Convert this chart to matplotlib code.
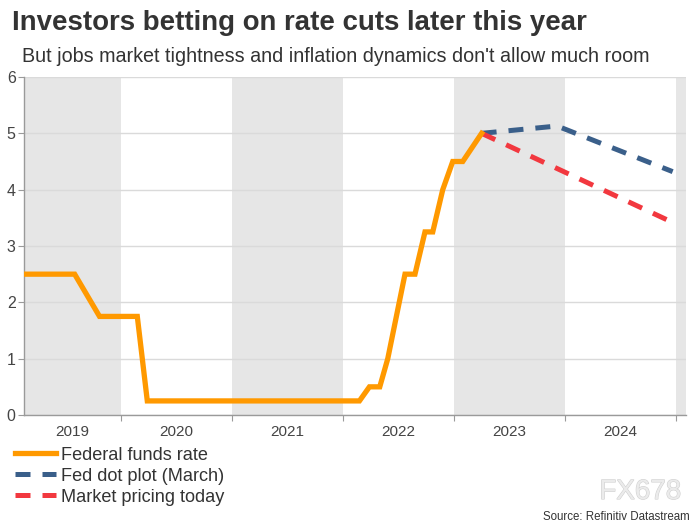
import matplotlib
matplotlib.use("Agg")
import matplotlib.pyplot as plt
from matplotlib.lines import Line2D
import matplotlib.patheffects as pe

plt.rcParams['font.family'] = ['Liberation Sans', 'DejaVu Sans']

# Data (decimal years)
fed_x = [2019.13, 2019.586, 2019.81, 2020.15, 2020.24, 2022.15, 2022.24, 2022.333,
         2022.405, 2022.56, 2022.65, 2022.74, 2022.81, 2022.90, 2022.99, 2023.08, 2023.25]
fed_y = [2.5, 2.5, 1.75, 1.75, 0.25, 0.25, 0.5, 0.5,
         1.0, 2.5, 2.5, 3.25, 3.25, 4.0, 4.5, 4.5, 5.0]

dot_x = [2023.25, 2023.93, 2024.97]
dot_y = [5.0, 5.13, 4.32]

mkt_x = [2023.25, 2024.99]
mkt_y = [5.0, 3.40]

years = [2019, 2020, 2021, 2022, 2023, 2024]
shaded_years = [2019, 2021, 2023, 2025]
x_min, x_max = 2019.13, 2025.09

title = "Investors betting on rate cuts later this year"
subtitle = "But jobs market tightness and inflation dynamics don't allow much room"

ORANGE = "#FF9900"
BLUE = "#3A5F8A"
RED = "#F2383F"
BAND = "#E6E6E6"

fig = plt.figure(figsize=(7, 5.25), dpi=100)
ax = fig.add_axes([24/700, 1-415/525, (686-24)/700, (415-77)/525])

for y in shaded_years:
    ax.axvspan(y, y+1, color=BAND, zorder=0, lw=0)

ax.set_xlim(x_min, x_max)
ax.set_ylim(0, 6)
ax.set_yticks(range(0, 7))
ax.yaxis.grid(True, color="#DADADA", lw=1)
for gl in ax.get_ygridlines():
    gl.set_zorder(0.5)

ax.plot(fed_x, fed_y, color=ORANGE, lw=3.8, solid_joinstyle='miter', zorder=3)
ax.plot(dot_x, dot_y, color=BLUE, lw=3.6, dashes=(3.0, 2.4), zorder=2)
ax.plot(mkt_x, mkt_y, color=RED, lw=3.6, dashes=(3.0, 2.4), zorder=2.5)

for s in ['top', 'right']:
    ax.spines[s].set_visible(False)
for s in ['left', 'bottom']:
    ax.spines[s].set_color("#9A9A9A")
    ax.spines[s].set_linewidth(1)

ax.tick_params(axis='y', length=4, color="#9A9A9A", labelsize=11.5, labelcolor="#444444", pad=2)
ax.set_xticks(range(2020, 2026))
ax.set_xticklabels([])
ax.tick_params(axis='x', which='major', length=4, color="#9A9A9A")
centers = [(max(y, x_min) + min(y+1, x_max)) / 2 for y in years]
ax.set_xticks(centers, minor=True)
ax.set_xticklabels([str(y) for y in years], minor=True)
ax.tick_params(axis='x', which='minor', length=0, labelsize=11, labelcolor="#444444", pad=7)

fig.text(12/700, 1-23/525, title, fontsize=19.9, fontweight='bold', color="#333333",
         va='center', ha='left')
fig.text(22/700, 1-57/525, subtitle, fontsize=14.2, color="#333333", va='center', ha='left')

handles = [Line2D([], [], color=ORANGE, lw=3.8),
           Line2D([], [], color=BLUE, lw=3.6, dashes=(3.0, 2.4)),
           Line2D([], [], color=RED, lw=3.6, dashes=(3.0, 2.4)),
           ]
labels = ["Federal funds rate", "Fed dot plot (March)", "Market pricing today"]
fig.legend(handles, labels, loc='upper left', bbox_to_anchor=(11/700, 1-443/525),
           frameon=False, fontsize=13.1, handlelength=2.3, handletextpad=0.25,
           labelspacing=0.22, labelcolor="#333333", borderaxespad=0, borderpad=0.2)

fig.text(681/700, 1-492/525, "FX678", fontsize=20, color="#EBEBEB", ha='right', va='center',
         path_effects=[pe.withStroke(linewidth=0.8, foreground="#D0D0D0")])
fig.text(690/700, 1-517/525, "Source: Refinitiv Datastream", fontsize=8.3, color="#333333",
         ha='right', va='center')

fig.savefig("out.png", dpi=100)
